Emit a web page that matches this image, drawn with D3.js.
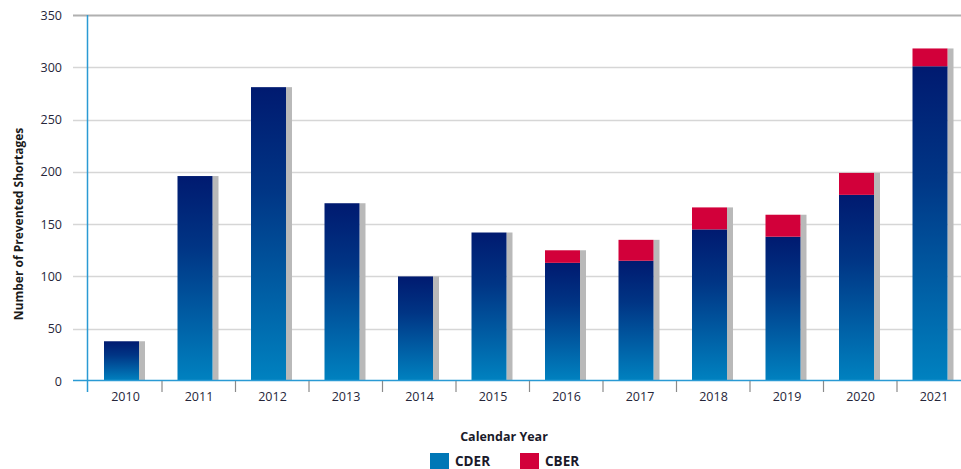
<!DOCTYPE html>
<html>
<head>
<meta charset="utf-8">
<script src="https://cdn.jsdelivr.net/npm/d3@7"></script>
<style>
  html, body { margin: 0; padding: 0; background: #fff; }
  svg { display: block; font-family: "Open Sans", "DejaVu Sans", sans-serif; }
</style>
</head>
<body>
<svg id="chart" width="961" height="469"></svg>
<script>
// ---- data ----
const years = ["2010","2011","2012","2013","2014","2015","2016","2017","2018","2019","2020","2021"];
const cder  = [38, 196, 281, 170, 100, 142, 113, 115, 145, 138, 178, 301];
const cber  = [0, 0, 0, 0, 0, 0, 12, 20, 21, 21, 21, 17];
const yTicks = [0, 50, 100, 150, 200, 250, 300, 350];
const seriesNames = ["CDER", "CBER"];

// ---- layout ----
const W = 961, H = 469;
const axisX = 87, y0 = 381, yTop = 15;
const svg = d3.select("#chart");

const x = d3.scaleBand().domain(years).range([91, 973]).padding(0);
const y = d3.scaleLinear().domain([0, 350]).range([y0, yTop]);
const barOffset = 13, barW = 35, shadowW = 6;

const defs = svg.append("defs");
const grad = defs.append("linearGradient")
  .attr("id", "blueGrad").attr("x1", 0).attr("y1", 0).attr("x2", 0).attr("y2", 1);
grad.append("stop").attr("offset", "0%").attr("stop-color", "#001a70");
grad.append("stop").attr("offset", "35%").attr("stop-color", "#003585");
grad.append("stop").attr("offset", "100%").attr("stop-color", "#0082c0");

// gridlines
svg.append("g").selectAll("line").data(yTicks.filter(d => d > 0)).join("line")
  .attr("x1", 73).attr("x2", W)
  .attr("y1", d => Math.round(y(d)) + 0.5).attr("y2", d => Math.round(y(d)) + 0.5)
  .attr("stroke", d => d === 350 ? "#b0b0b0" : "#d6d6d6")
  .attr("stroke-width", d => d === 350 ? 2 : 1.5);

// y tick labels
svg.append("g").selectAll("text").data(yTicks).join("text")
  .attr("x", 62).attr("y", d => y(d) + 4.5)
  .attr("text-anchor", "end")
  .attr("font-size", 12.5)
  .attr("fill", "#26263a")
  .text(d => d);

// bars
const data = years.map((yr, i) => ({ yr, cder: cder[i], cber: cber[i], total: cder[i] + cber[i] }));
const g = svg.append("g");
// shadows
g.selectAll("rect.shadow").data(data).join("rect")
  .attr("class", "shadow")
  .attr("x", d => x(d.yr) + barOffset + barW)
  .attr("y", d => y(d.total))
  .attr("width", shadowW)
  .attr("height", d => y0 - y(d.total))
  .attr("fill", "#b9b9b9");
// CDER
g.selectAll("rect.cder").data(data).join("rect")
  .attr("class", "cder")
  .attr("x", d => x(d.yr) + barOffset)
  .attr("y", d => y(d.cder))
  .attr("width", barW)
  .attr("height", d => y0 - y(d.cder))
  .attr("fill", "url(#blueGrad)");
// CBER
g.selectAll("rect.cber").data(data.filter(d => d.cber > 0)).join("rect")
  .attr("class", "cber")
  .attr("x", d => x(d.yr) + barOffset)
  .attr("y", d => y(d.total))
  .attr("width", barW)
  .attr("height", d => y(d.cder) - y(d.total))
  .attr("fill", "#d2003a");

// axes lines
svg.append("line").attr("x1", axisX + 0.5).attr("x2", axisX + 0.5).attr("y1", yTop).attr("y2", 392)
  .attr("stroke", "#2a9ad4").attr("stroke-width", 1.5);
svg.append("line").attr("x1", 73).attr("x2", W).attr("y1", 380.5).attr("y2", 380.5)
  .attr("stroke", "#2a9ad4").attr("stroke-width", 1.5);

// x ticks at band boundaries
svg.append("g").selectAll("line").data(years.slice(1)).join("line")
  .attr("x1", d => x(d) - 3 + 0.5).attr("x2", d => x(d) - 3 + 0.5)
  .attr("y1", 381).attr("y2", 392)
  .attr("stroke", "#8a8a8a").attr("stroke-width", 1.2);

// x labels
svg.append("g").selectAll("text").data(years).join("text")
  .attr("x", d => x(d) + barOffset + barW / 2 + 4)
  .attr("y", 401)
  .attr("text-anchor", "middle")
  .attr("font-size", 12.5)
  .attr("fill", "#26263a")
  .text(d => d);

// axis titles
svg.append("text")
  .attr("transform", "translate(23,224) rotate(-90)")
  .attr("text-anchor", "middle")
  .attr("font-size", 12)
  .attr("font-weight", "bold")
  .attr("fill", "#1a1a1a")
  .text("Number of Prevented Shortages");

svg.append("text")
  .attr("x", 504).attr("y", 440.5)
  .attr("text-anchor", "middle")
  .attr("font-size", 12.5)
  .attr("font-weight", "bold")
  .attr("fill", "#1a1a2a")
  .text("Calendar Year");

// legend
const legendColors = ["#0077b6", "#d2003a"];
const legendX = [430, 520];
const lg = svg.append("g");
seriesNames.forEach((name, i) => {
  lg.append("rect").attr("x", legendX[i]).attr("y", 453).attr("width", 19).attr("height", 19)
    .attr("fill", legendColors[i]);
  lg.append("text").attr("x", legendX[i] + 25).attr("y", 465.5)
    .attr("font-size", 13.5).attr("font-weight", "bold").attr("fill", "#1a1a2a")
    .text(name);
});
</script>
</body>
</html>
